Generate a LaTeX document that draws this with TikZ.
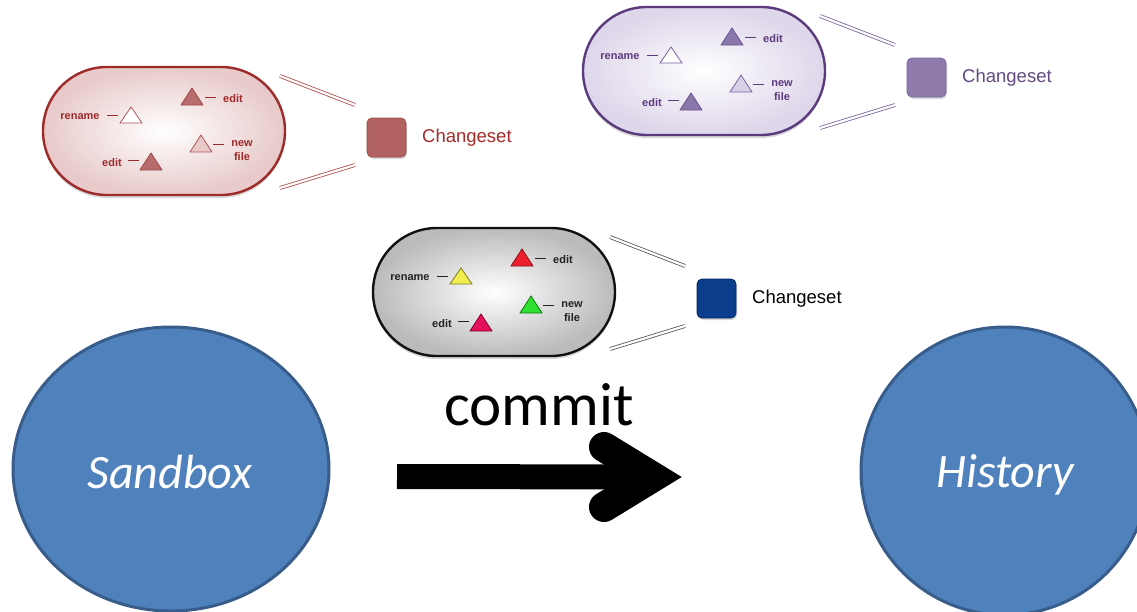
\documentclass[tikz,border=0pt]{standalone}
\usepackage{fontspec}
\setmainfont{Liberation Sans}
\newfontfamily\calfont{Carlito}
\usetikzlibrary{shapes.misc,shapes.geometric,shadows}

\tikzset{
  lbl/.style={font=\fontsize{11}{14}\selectfont\bfseries, text=cLabel, inner sep=0pt, align=center},
  dashl/.style={draw=cLabel, line width=0.8pt},
  dline/.style={draw=cLine, line width=0.8pt, double=white, double distance=2.2pt},
  tri/.style={line width=0.8pt},
  cgroup/.pic={
    \node[rounded rectangle, minimum width=242pt, minimum height=128pt, inner sep=0pt,
          draw=cBorder, line width=2.4pt, shading=radial, inner color=white, outer color=cFill,
          drop shadow={opacity=0.3, shadow xshift=0pt, shadow yshift=-3pt}] (-stad) at (121,64) {};
    % labels
    \node[lbl] (-ren) at (37,50) {rename};
    \node[lbl] (-e1) at (190,32) {edit};
    \node[lbl] (-nf) at (199,84) {new\\file};
    \node[lbl] (-e2) at (69,96) {edit};
    % dashes
    \draw[dashl] (64,48) -- (75,48);
    \draw[dashl] (162,30) -- (173,30);
    \draw[dashl] (170,77) -- (181,77);
    \draw[dashl] (85,93) -- (96,93);
    % triangles
    \filldraw[tri, fill=cTa, draw=cTad] (77,56) -- (99,56) -- (88,40) -- cycle;
    \filldraw[tri, fill=cTb, draw=cTbd] (138,38) -- (160,38) -- (149,21) -- cycle;
    \filldraw[tri, fill=cTc, draw=cTcd] (147,85) -- (169,85) -- (158,68) -- cycle;
    \filldraw[tri, fill=cTe, draw=cTed] (97,103) -- (119,103) -- (108,86) -- cycle;
    % connector lines
    \coordinate (-u1) at (237,9);  \coordinate (-u2) at (312,38);
    \coordinate (-l1) at (237,121); \coordinate (-l2) at (312,98);
    \draw[dline] (-u1) -- (-u2);
    \draw[dline] (-l1) -- (-l2);
    % changeset
    \node[draw=cSqB, fill=cSq, rounded corners=5pt, minimum size=39pt, inner sep=0pt, line width=0.8pt,
          drop shadow={opacity=0.3, shadow xshift=1pt, shadow yshift=-2pt}] (-sq) at (343.5,70.5) {};
    \node[anchor=west, inner sep=0pt, font=\fontsize{18.5}{20}\selectfont, text=cText] (-txt) at (379,71) {Changeset};
  }
}

\begin{document}
\begin{tikzpicture}[x=1pt,y=-1pt]
\useasboundingbox (0,0) rectangle (1137,611);
\fill[white] (0,0) rectangle (1137,611);

% ---------- red group ----------
\definecolor{cBorder}{HTML}{9E2A2A}\definecolor{cFill}{HTML}{E8CACA}
\definecolor{cTa}{HTML}{FFFFFF}\definecolor{cTad}{HTML}{B05555}
\definecolor{cTb}{HTML}{B86C6C}\definecolor{cTbd}{HTML}{A04848}
\definecolor{cTc}{HTML}{E8C8C8}\definecolor{cTcd}{HTML}{B05555}
\definecolor{cTe}{HTML}{B86C6C}\definecolor{cTed}{HTML}{A04848}
\definecolor{cLabel}{HTML}{9E2A2A}\definecolor{cLine}{HTML}{B04A4A}
\definecolor{cSq}{HTML}{B36262}\definecolor{cSqB}{HTML}{A04848}
\definecolor{cText}{HTML}{A52A2A}
\pic (red) at (43,67) {cgroup};

% ---------- purple group ----------
\definecolor{cBorder}{HTML}{5B3A7E}\definecolor{cFill}{HTML}{DED6EA}
\definecolor{cTa}{HTML}{FFFFFF}\definecolor{cTad}{HTML}{7A62A0}
\definecolor{cTb}{HTML}{8B78AA}\definecolor{cTbd}{HTML}{6A5290}
\definecolor{cTc}{HTML}{D8D0E6}\definecolor{cTcd}{HTML}{7A62A0}
\definecolor{cTe}{HTML}{8B78AA}\definecolor{cTed}{HTML}{6A5290}
\definecolor{cLabel}{HTML}{5B3A7E}\definecolor{cLine}{HTML}{7A62A0}
\definecolor{cSq}{HTML}{8E7BAC}\definecolor{cSqB}{HTML}{7A66A0}
\definecolor{cText}{HTML}{634A82}
\pic (purple) at (583,7) {cgroup};

% ---------- gray group ----------
\definecolor{cBorder}{HTML}{111111}\definecolor{cFill}{HTML}{BBBBBB}
\definecolor{cTa}{HTML}{F2EE50}\definecolor{cTad}{HTML}{7A7A20}
\definecolor{cTb}{HTML}{EE2030}\definecolor{cTbd}{HTML}{8A1018}
\definecolor{cTc}{HTML}{30E030}\definecolor{cTcd}{HTML}{107A10}
\definecolor{cTe}{HTML}{E4105C}\definecolor{cTed}{HTML}{800030}
\definecolor{cLabel}{HTML}{222222}\definecolor{cLine}{HTML}{555555}
\definecolor{cSq}{HTML}{0A3D8C}\definecolor{cSqB}{HTML}{06275E}
\definecolor{cText}{HTML}{000000}
\pic (gray) at (373,228) {cgroup};

% ---------- big circles ----------
\definecolor{blueF}{HTML}{4F81BD}\definecolor{blueB}{HTML}{385D8A}
\node[ellipse, draw=blueB, fill=blueF, line width=3pt, minimum width=316pt, minimum height=284pt, inner sep=0pt] (sandbox) at (171,469) {};
\node[anchor=base, text=white, font=\calfont\itshape\fontsize{48}{50}\selectfont] (sandboxlbl) at (170,488) {Sandbox};
\node[circle, draw=blueB, fill=blueF, line width=3pt, minimum size=288pt, inner sep=0pt] (history) at (1005,471) {};
\node[anchor=base, text=white, font=\calfont\itshape\fontsize{48}{50}\selectfont] (historylbl) at (1005,487) {History};

% ---------- commit arrow ----------
\node[anchor=base, inner sep=0pt, font=\calfont\fontsize{61}{61}\selectfont] (commit) at (539,425) {commit};
\coordinate (arrS) at (397,476.5);
\coordinate (arrT) at (653,477);
\coordinate (armU) at (604,447);
\coordinate (armL) at (604,507);
\draw[line width=25pt] (arrS) -- (arrT);
\draw[line width=30pt, line cap=round, line join=miter] (armU) -- (arrT) -- (armL);
\end{tikzpicture}
\end{document}
